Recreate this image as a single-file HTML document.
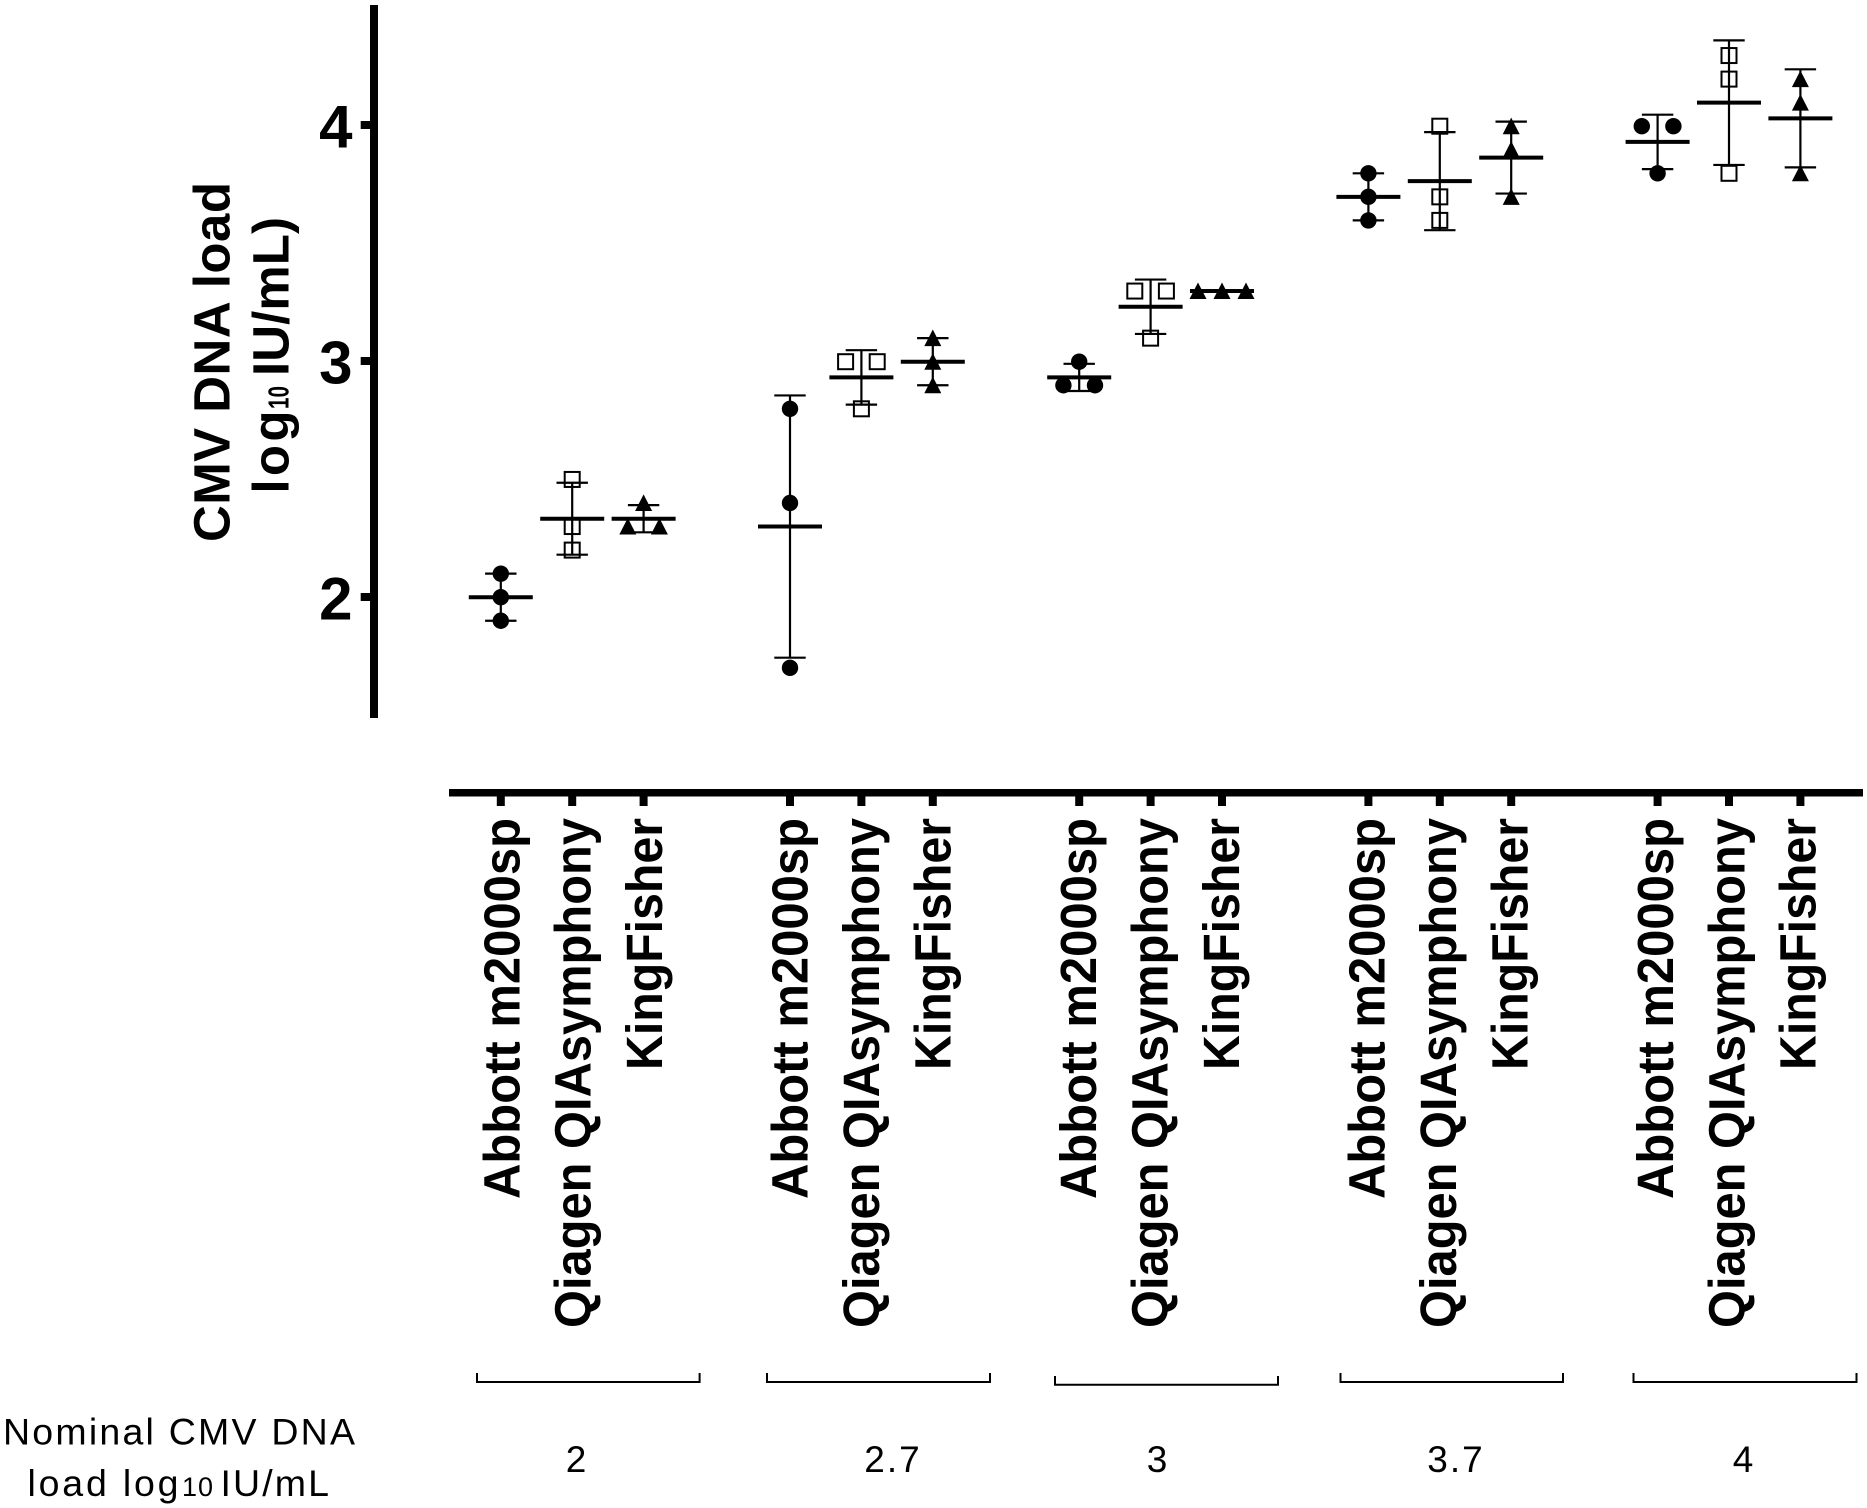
<!DOCTYPE html>
<html lang="en">
<head>
<meta charset="utf-8">
<title>CMV DNA load by extraction platform</title>
<style>
html,body{margin:0;padding:0;background:#fff;}
svg{display:block;}
text{font-family:"Liberation Sans",Arial,sans-serif;fill:#000;}
.b{font-weight:700;}
</style>
</head>
<body>
<svg id="chart" xmlns="http://www.w3.org/2000/svg" width="1867" height="1508" viewBox="0 0 1867 1508">
  <rect x="0" y="0" width="1867" height="1508" fill="#fff"/>

  <line x1="374" y1="5" x2="374" y2="718" stroke="#000" stroke-width="8"/>
  <g id="yTicks"></g>

  <line x1="449" y1="792.7" x2="1863" y2="792.7" stroke="#000" stroke-width="7.5"/>
  <g id="xTicks"></g>

  <g>
    <text class="b" transform="translate(229.5 542) rotate(-90)" font-size="51" textLength="360" lengthAdjust="spacing">CMV DNA load</text>
    <text class="b" transform="translate(288.5 493.5) rotate(-90)" font-size="51" textLength="83" lengthAdjust="spacing">log</text>
    <text class="b" transform="translate(288.5 409) rotate(-90)" font-size="29" textLength="23" lengthAdjust="spacingAndGlyphs">10</text>
    <text class="b" transform="translate(288.5 376) rotate(-90)" font-size="51" textLength="159" lengthAdjust="spacing">IU/mL)</text>
  </g>

  <g id="plot"></g>
  <g id="xLabels"></g>

  <g fill="none" stroke="#000" stroke-width="2">
    <path d="M477 1373V1382H699.6V1373"/>
    <path d="M767 1373V1382H990V1373"/>
    <path d="M1055 1376V1384.7H1278V1376"/>
    <path d="M1340.5 1373V1382H1563V1373"/>
    <path d="M1633.5 1373V1382H1856.5V1373"/>
  </g>

  <g>
    <text x="3" y="1444.5" font-size="37.5" textLength="352" lengthAdjust="spacing">Nominal CMV DNA</text>
    <text x="27.5" y="1496" font-size="37.5" textLength="151" lengthAdjust="spacing">load log</text>
    <text x="182" y="1496" font-size="27" textLength="31" lengthAdjust="spacing">10</text>
    <text x="220.5" y="1496" font-size="37.5" textLength="108.5" lengthAdjust="spacing">IU/mL</text>
  </g>

  <g font-size="37" text-anchor="middle" letter-spacing="2">
    <text x="577" y="1472">2</text>
    <text x="893" y="1472">2.7</text>
    <text x="1158" y="1472">3</text>
    <text x="1456" y="1472">3.7</text>
    <text x="1744" y="1472">4</text>
  </g>
</svg>

<script>
// ----- chart data -----
const yTickValues = [2, 3, 4];
const platforms = ["Abbott m2000sp", "Qiagen QIAsymphony", "KingFisher"];
const nominalLoads = ["2", "2.7", "3", "3.7", "4"];
// One triple of replicate results per nominal load.
const abbottValues = [[2.1, 2.0, 1.9], [2.8, 2.4, 1.7], [3.0, 2.9, 2.9], [3.8, 3.7, 3.6], [4.0, 4.0, 3.8]];
const qiagenValues = [[2.5, 2.3, 2.2], [3.0, 3.0, 2.8], [3.3, 3.3, 3.1], [4.0, 3.7, 3.6], [4.3, 4.2, 3.8]];
const kingfisherValues = [[2.4, 2.3, 2.3], [3.1, 3.0, 2.9], [3.3, 3.3, 3.3], [4.0, 3.9, 3.7], [4.2, 4.1, 3.8]];
const seriesValues = [abbottValues, qiagenValues, kingfisherValues];
const seriesKeys = ["abbott", "qiagen", "kingfisher"];

// ----- axis functions -----
const SVG_NS = "http://www.w3.org/2000/svg";
function yTickScale(v) { return 125 + (4 - v) * 236; }
function yScale(v) { return 597.2 - (v - 2) * 235.5; }
function xScale(groupIndex, platformIndex) { return 500.8 + groupIndex * 289.2 + platformIndex * 71.4; }

function make(tag, attrs, parent) {
  const node = document.createElementNS(SVG_NS, tag);
  for (const k in attrs) node.setAttribute(k, attrs[k]);
  parent.appendChild(node);
  return node;
}
function mean(vals) { return vals.reduce(function (a, b) { return a + b; }, 0) / vals.length; }
function stdev(vals) {
  const m = mean(vals);
  return Math.sqrt(vals.reduce(function (a, b) { return a + (b - m) * (b - m); }, 0) / (vals.length - 1));
}
// Prism-style swarm: tied replicates are spread sideways.
function swarmOffsets(vals) {
  const seen = {};
  const counts = {};
  vals.forEach(function (v) { const k = v.toFixed(2); counts[k] = (counts[k] || 0) + 1; });
  return vals.map(function (v) {
    const k = v.toFixed(2);
    const i = seen[k] || 0;
    seen[k] = i + 1;
    if (counts[k] === 1) return 0;
    if (counts[k] === 2) return i === 0 ? -15.8 : 15.8;
    return (i - (counts[k] - 1) / 2) * 24;
  });
}
function drawMarker(kind, cx, cy, parent) {
  if (kind === 0) return make("circle", { cx: cx, cy: cy, r: 8.2, fill: "#000" }, parent);
  if (kind === 1) return make("rect", { x: cx - 7.5, y: cy - 7.5, width: 15, height: 15, fill: "none", stroke: "#000", "stroke-width": 2 }, parent);
  return make("path", { d: "M" + cx + " " + (cy - 8.6) + "L" + (cx + 8.5) + " " + (cy + 8) + "H" + (cx - 8.5) + "Z", fill: "#000" }, parent);
}

// ----- y axis -----
const yTicksG = document.getElementById("yTicks");
yTickValues.forEach(function (v) {
  const tick = make("line", { x1: 360.7, x2: 371, y1: yTickScale(v), y2: yTickScale(v), stroke: "#000", "stroke-width": 8 }, yTicksG);
  
  
  const label = make("text", { x: 352.5, y: yTickScale(v) + 22.5, "font-size": 60, "font-weight": 700, "text-anchor": "end" }, yTicksG);
  
  
  label.textContent = String(v);
});

// ----- x axis -----
const xTicksG = document.getElementById("xTicks");
const xLabelsG = document.getElementById("xLabels");
nominalLoads.forEach(function (load, g) {
  platforms.forEach(function (name, p) {
    const x = xScale(g, p);
    const tick = make("line", { x1: x, x2: x, y1: 795, y2: 806, stroke: "#000", "stroke-width": 8 }, xTicksG);
    
    
    const len = p === 0 ? 381 : p === 1 ? 510 : 252;
    const label = make("text", {
      transform: "translate(" + (x + 18.5 - g * 0.8) + " " + (818 + len) + ") rotate(-90)",
      "font-size": 51, "font-weight": 700, textLength: len, lengthAdjust: "spacingAndGlyphs"
    }, xLabelsG);
    
    
    label.textContent = name;
  });
});

// ----- series -----
const plotG = document.getElementById("plot");
seriesValues.forEach(function (series, s) {
  series.forEach(function (vals, g) {
    const cx = xScale(g, s);
    const m = mean(vals);
    const sd = stdev(vals);
    const hi = yScale(m + sd);
    const lo = yScale(m - sd);

    const stem = make("line", { x1: cx, x2: cx, y1: hi, y2: lo, stroke: "#000", "stroke-width": 2.2 }, plotG);
    
    

    const capTop = make("line", { x1: cx - 15.7, x2: cx + 15.7, y1: hi, y2: hi, stroke: "#000", "stroke-width": 2.2 }, plotG);
    
    

    const capBottom = make("line", { x1: cx - 15.7, x2: cx + 15.7, y1: lo, y2: lo, stroke: "#000", "stroke-width": 2.2 }, plotG);
    
    

    const meanLine = make("line", { x1: cx - 32, x2: cx + 32, y1: yScale(m), y2: yScale(m), stroke: "#000", "stroke-width": 4 }, plotG);
    
    

    const offsets = swarmOffsets(vals);
    vals.forEach(function (v, i) {
      const point = drawMarker(s, cx + offsets[i], yScale(v), plotG);
      
      
      point.setAttribute('data-series', seriesKeys[s]);
    });
  });
});
</script>
</body>
</html>
